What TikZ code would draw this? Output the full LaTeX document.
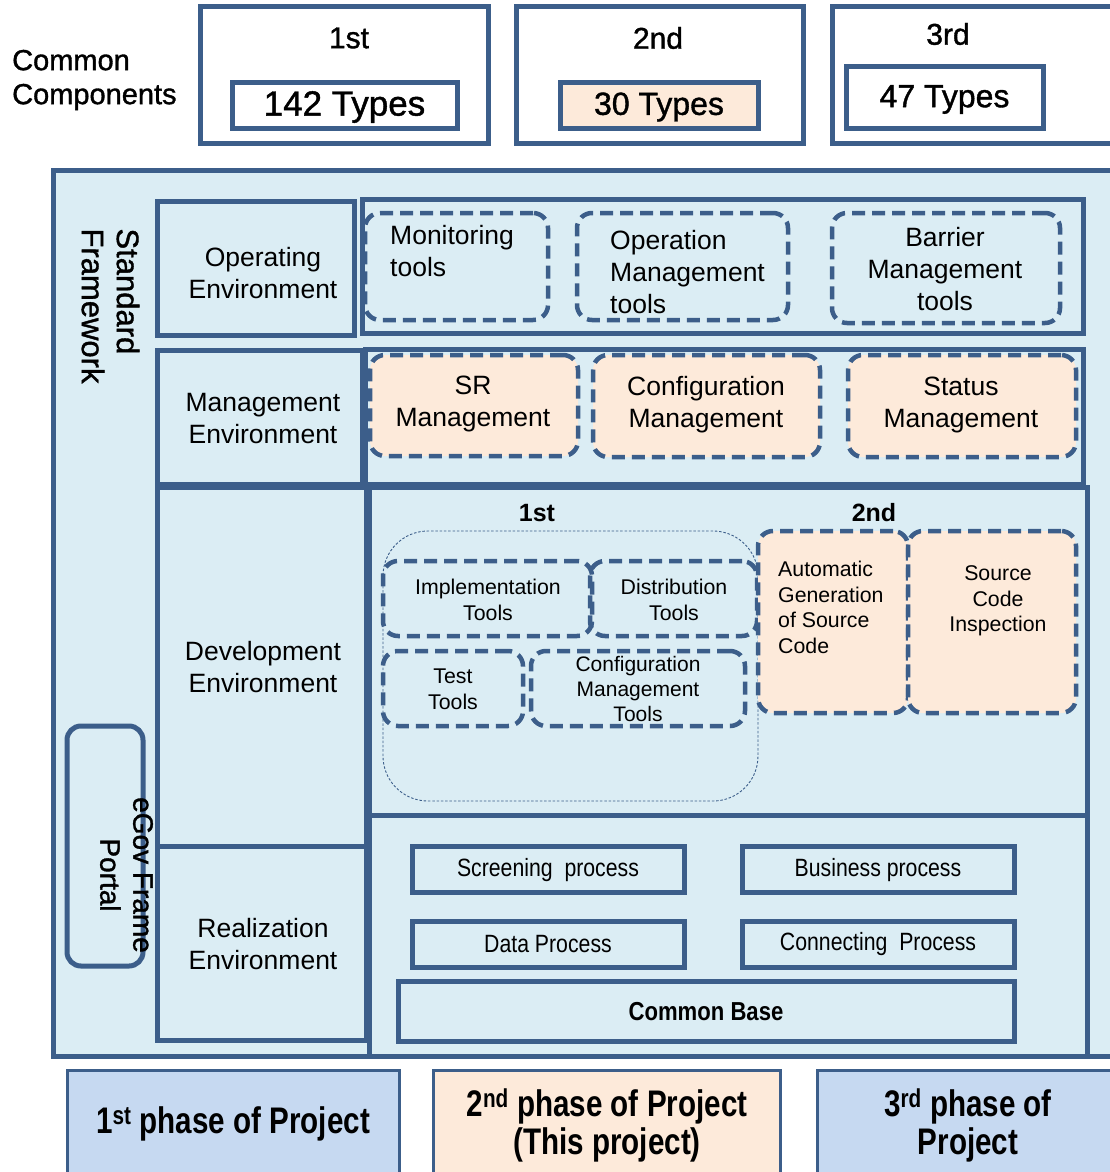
\documentclass[tikz,border=0pt]{standalone}
\usepackage{fontspec}
\setmainfont{Liberation Sans}
\newfontfamily\nfont[FakeStretch=0.85]{Liberation Sans}
\newfontfamily\nnfont[FakeStretch=0.8]{Liberation Sans}
\newfontfamily\hfont[FakeBold=1.2]{Liberation Sans}
\definecolor{dkblue}{RGB}{60,94,138}
\definecolor{ltblue}{RGB}{219,237,244}
\definecolor{peach}{RGB}{253,234,218}
\definecolor{phblue}{RGB}{198,217,241}
\newcommand\fs[2]{\fontsize{#1}{#2}\selectfont}
\begin{document}
\begin{tikzpicture}[x=1pt,y=-1pt,
 box/.style={draw=dkblue,line width=5pt,fill=ltblue,inner sep=0pt,outer sep=0pt},
 wbox/.style={box,fill=white},
 tool/.style={draw=dkblue,line width=4.5pt,rounded corners=15pt,dash pattern=on 13pt off 7pt,inner sep=0pt},
 ptool/.style={tool,fill=peach},
 txt/.style={inner sep=0pt,align=center,font=\fs{26.5}{32}},
 stxt/.style={inner sep=0pt,align=center,font=\fs{21.3}{25.5}},
 ntxt/.style={inner sep=0pt,align=center,font=\nfont\fs{25}{30}},
 ptxt/.style={inner sep=0pt,align=center,font=\nnfont\bfseries\fs{37}{38}},
 pbox/.style={draw=dkblue,line width=3pt,inner sep=0pt},
]
\useasboundingbox (0,0) rectangle (1110,1172);
\clip (0,0) rectangle (1110,1172);
\fill[white] (0,0) rectangle (1110,1172);

% ---- top: common components
\node[inner sep=0pt,align=left,anchor=west,font=\hfont\fs{29}{34}] (cc) at (12,80) {Common\\Components};
\node[wbox,minimum width=288pt,minimum height=136pt] (t1) at (344,75) {};
\node[txt,font=\hfont\fs{30}{34}] (t1l) at (349,38) {1st};
\node[wbox,minimum width=225pt,minimum height=46pt] (t1in) at (344.5,105) {};
\node[inner sep=0pt,font=\hfont\fs{35}{40}] (t1t) at (344.5,107) {142 Types};
\node[wbox,minimum width=287pt,minimum height=136pt] (t2) at (659.5,75) {};
\node[txt,font=\hfont\fs{30}{34}] (t2l) at (658,38) {2nd};
\node[box,fill=peach,minimum width=198pt,minimum height=46pt] (t2in) at (659,105) {};
\node[inner sep=0pt,font=\hfont\fs{32}{38}] (t2t) at (659,107) {30 Types};
\node[wbox,minimum width=308pt,minimum height=136pt] (t3) at (986,75) {};
\node[txt,font=\hfont\fs{30}{34}] (t3l) at (948,34) {3rd};
\node[wbox,minimum width=197pt,minimum height=61pt] (t3in) at (944.5,97.5) {};
\node[inner sep=0pt,font=\hfont\fs{32}{38}] (t3t) at (944.5,99.5) {47 Types};

% ---- main frame
\node[box,minimum width=1087pt,minimum height=886pt] (frame) at (596.5,613) {};
\node[inner sep=0pt,align=left,rotate=-90,font=\hfont\fs{31}{35}] (sf) at (110.5,306) {Standard\\Framework};

% left column
\node[box,minimum width=197pt,minimum height=134pt] (openv) at (255.5,268) {};
\node[box,minimum width=205pt,minimum height=134pt] (mgenv) at (259.5,417) {};
\node[box,minimum width=209pt,minimum height=359pt] (devenv) at (261.5,666.5) {};
\node[box,minimum width=209pt,minimum height=194pt] (realenv) at (261.5,943) {};
\node[txt] (openvt) at (263,273) {Operating\\Environment};
\node[txt] (mgenvt) at (263,419) {Management\\Environment};
\node[txt] (devenvt) at (263,667) {Development\\Environment};
\node[txt] (realenvt) at (263,944) {Realization\\Environment};

% right panels
\node[box,minimum width=721pt,minimum height=134pt] (oppanel) at (722.5,266) {};
\node[box,minimum width=718pt,minimum height=135pt] (mgpanel) at (724,416.5) {};
\node[box,minimum width=718pt,minimum height=328pt] (devpanel) at (728,651) {};
\node[box,minimum width=718pt,minimum height=241pt] (realpanel) at (728,935.5) {};

% operating tools
\node[tool,minimum width=183pt,minimum height=107pt] (mon) at (456.5,266.5) {};
\node[txt,align=left,anchor=west] (mont) at (390,251.5) {Monitoring\\tools};
\node[tool,minimum width=211pt,minimum height=107pt] (opm) at (682.5,266.5) {};
\node[txt,align=left,anchor=west] (opmt) at (610,272) {Operation\\Management\\tools};
\node[tool,minimum width=228pt,minimum height=110pt] (bar) at (946,268) {};
\node[txt] (bart) at (945,269) {Barrier\\Management\\tools};

% management
\node[ptool,minimum width=208pt,minimum height=101pt] (sr) at (474,405.5) {};
\node[txt] (srt) at (473,404) {SR\\Management};
\node[ptool,minimum width=227pt,minimum height=102pt] (cfg) at (706.5,406) {};
\node[txt] (cfgt) at (706,405) {Configuration\\Management};
\node[ptool,minimum width=228pt,minimum height=102pt] (st) at (962,406) {};
\node[txt] (stt) at (961,405) {Status\\Management};

% development
\node[inner sep=0pt,font=\bfseries\fs{25}{30}] (d1) at (537,513) {1st};
\node[inner sep=0pt,font=\bfseries\fs{25}{30}] (d2) at (874,513) {2nd};
\node[draw=dkblue,line width=0.9pt,dash pattern=on 2.5pt off 1.8pt,rounded corners=45pt,minimum width=375pt,minimum height=270pt] (grp) at (570.5,666) {};
\node[tool,minimum width=209pt,minimum height=75pt] (impl) at (487.5,598.5) {};
\node[stxt] (implt) at (488,600) {Implementation\\Tools};
\node[tool,minimum width=167pt,minimum height=75pt] (dist) at (673.5,598.5) {};
\node[stxt] (distt) at (674,600) {Distribution\\Tools};
\node[tool,minimum width=140pt,minimum height=75pt] (test) at (453,688.5) {};
\node[stxt] (testt) at (453,689.5) {Test\\Tools};
\node[tool,minimum width=214pt,minimum height=75pt] (cmt) at (638,688.5) {};
\node[stxt,font=\fs{21}{25}] (cmtt) at (638,689) {Configuration\\Management\\Tools};
\node[ptool,minimum width=150pt,minimum height=182pt] (agen) at (833,622) {};
\node[stxt,align=left,anchor=west] (agent) at (778,607.5) {Automatic\\Generation\\of Source\\Code};
\node[ptool,minimum width=168pt,minimum height=182pt] (sci) at (992,622) {};
\node[stxt] (scit) at (998,601) {Source\\Code\\Inspection};

% realization
\node[box,minimum width=272pt,minimum height=46pt] (scr) at (548,869) {};
\node[ntxt] (scrt) at (548,870) {Screening\ \ process};
\node[box,minimum width=272pt,minimum height=46pt] (bus) at (878,869) {};
\node[ntxt] (bust) at (878,870) {Business process};
\node[box,minimum width=272pt,minimum height=46pt] (dat) at (548,944) {};
\node[ntxt] (datt) at (548,944) {Data Process};
\node[box,minimum width=272pt,minimum height=46pt] (con) at (878,944) {};
\node[ntxt] (cont) at (878,944) {Connecting\ \ Process};
\node[box,minimum width=616pt,minimum height=60pt] (cb) at (706,1011) {};
\node[ntxt,font=\nfont\bfseries\fs{26}{30}] (cbt) at (706,1012) {Common Base};

% eGov frame portal
\node[draw=dkblue,line width=5pt,rounded corners=14pt,minimum width=76pt,minimum height=240pt,inner sep=0pt] (egov) at (105,846) {};
\node[inner sep=0pt,align=center,rotate=-90,font=\hfont\fs{28}{33}] (egovt) at (126.5,875) {eGov Frame\\Portal};

% bottom phases
\node[pbox,fill=phblue,minimum width=332pt,minimum height=110pt] (b1) at (233,1125) {};
\node[ptxt] (b1t) at (233,1124) {1\textsuperscript{st} phase of Project};
\node[pbox,fill=peach,minimum width=347pt,minimum height=110pt] (b2) at (606.5,1125) {};
\node[ptxt] (b2t) at (607,1125) {2\textsuperscript{nd} phase of Project\\(This project)};
\node[pbox,fill=phblue,minimum width=323pt,minimum height=110pt] (b3) at (978.5,1125) {};
\node[ptxt] (b3t) at (968,1125) {3\textsuperscript{rd} phase of\\Project};
\end{tikzpicture}
\end{document}
